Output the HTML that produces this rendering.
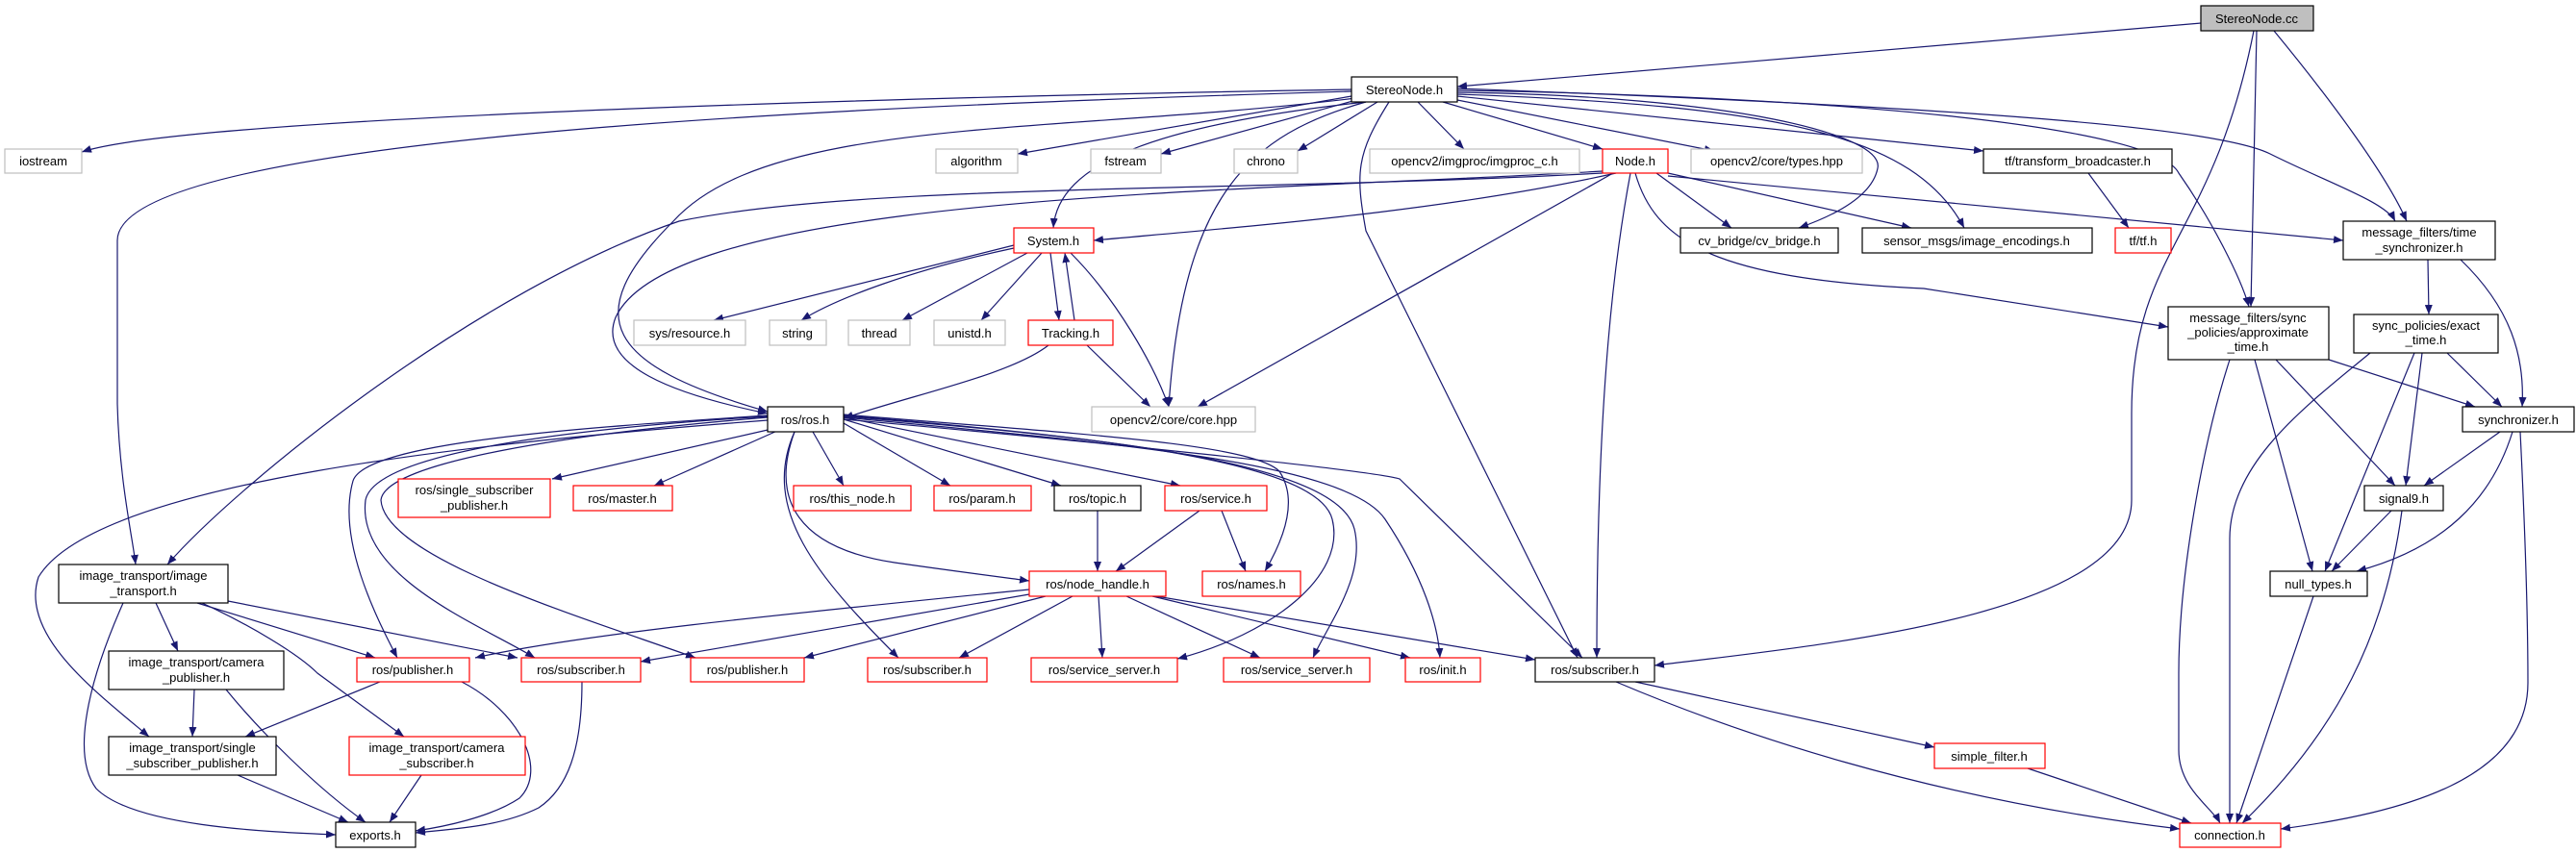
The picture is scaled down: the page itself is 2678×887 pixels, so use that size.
<!DOCTYPE html>
<html><head><meta charset="utf-8"><style>
html,body{margin:0;padding:0;background:#fff;}
svg{display:block;}
text{font-family:"Liberation Sans",sans-serif;font-size:13px;fill:#000;text-anchor:middle;}
.e{fill:none;stroke:#191970;stroke-width:1.2;marker-end:url(#a);}
.g{fill:#fff;stroke:#bfbfbf;stroke-width:1.2;}
.r{fill:#fff;stroke:#ff0000;stroke-width:1.2;}
.b{fill:#fff;stroke:#000;stroke-width:1.2;}
</style></head><body>
<svg width="2678" height="887" viewBox="0 0 2678 887" xmlns="http://www.w3.org/2000/svg">
<defs><marker id="a" markerWidth="10" markerHeight="8" refX="10" refY="4" orient="auto" markerUnits="userSpaceOnUse"><path d="M0,0 L10,4 L0,8 z" fill="#191970"/></marker></defs>
<g>
<path class="e" d="M2288 24 L1515 90"/>
<path class="e" d="M2343 32 C2300 250,2216 260,2216 430 L2216 520 C2216 640,1900 670,1720 692"/>
<path class="e" d="M2346 32 L2340 319"/>
<path class="e" d="M2364 32 C2420 100,2480 180,2502 230"/>
<path class="e" d="M1405 93 C1000 100,200 120,85 158"/>
<path class="e" d="M1405 95 C900 110,122 140,122 250 L122 420 C124 500,138 560,141 587"/>
<path class="e" d="M1410 102 C1100 140,800 120,700 230 C600 330,630 380,798 428"/>
<path class="e" d="M1666 178 C1300 200,700 200,640 330 C620 380,700 410,798 430"/>
<path class="e" d="M1420 106 C1200 130,1100 170,1095 237"/>
<path class="e" d="M1405 100 L1058 160"/>
<path class="e" d="M1410 104 L1207 160"/>
<path class="e" d="M1432 106 L1349 157"/>
<path class="e" d="M1420 106 C1300 140,1230 200,1215 423"/>
<path class="e" d="M1444 106 C1410 160,1409 180,1420 240 L1640 684"/>
<path class="e" d="M1474 106 L1522 155"/>
<path class="e" d="M1500 106 L1666 155"/>
<path class="e" d="M1515 104 L1782 157"/>
<path class="e" d="M1515 96 C1800 100,1960 140,1952 175 C1945 210,1890 230,1870 237"/>
<path class="e" d="M1515 98 C1850 110,1990 140,2042 237"/>
<path class="e" d="M1515 100 L2062 157"/>
<path class="e" d="M1515 94 C1900 100,2240 130,2265 180 C2300 230,2330 290,2338 319"/>
<path class="e" d="M1515 92 C2000 110,2300 130,2360 160 C2420 190,2480 210,2490 230"/>
<path class="e" d="M1666 180 C1300 200,900 190,706 230 C500 300,250 500,174 587"/>
<path class="e" d="M1680 180 C1500 220,1300 235,1137 250"/>
<path class="e" d="M1677 180 L1245 423"/>
<path class="e" d="M1695 180 C1680 260,1660 400,1660 684"/>
<path class="e" d="M1722 180 L1800 237"/>
<path class="e" d="M1734 180 L1987 237"/>
<path class="e" d="M1734 183 L2436 250"/>
<path class="e" d="M1700 180 C1720 250,1780 290,2000 300 L2254 340"/>
<path class="e" d="M2171 180 L2213 237"/>
<path class="e" d="M1054 255 L742 333"/>
<path class="e" d="M1054 258 C950 280,870 310,833 333"/>
<path class="e" d="M1068 263 L938 333"/>
<path class="e" d="M1083 263 L1020 333"/>
<path class="e" d="M1092 263 L1101 333"/>
<path class="e" d="M1117 333 L1107 263"/>
<path class="e" d="M1113 263 C1160 310,1200 380,1215 423"/>
<path class="e" d="M1130 359 L1196 423"/>
<path class="e" d="M1090 359 C1050 390,950 410,877 435"/>
<path class="e" d="M2524 270 L2525 327"/>
<path class="e" d="M2558 270 C2610 320,2625 370,2622 423"/>
<path class="e" d="M2421 374 L2573 423"/>
<path class="e" d="M2366 374 L2490 505"/>
<path class="e" d="M2344 374 L2404 594"/>
<path class="e" d="M2318 374 C2290 460,2265 600,2265 700 L2265 780 C2265 820,2300 840,2308 856"/>
<path class="e" d="M2544 367 L2601 423"/>
<path class="e" d="M2518 367 L2501 505"/>
<path class="e" d="M2510 367 L2417 594"/>
<path class="e" d="M2464 367 C2400 420,2318 480,2318 560 L2318 856"/>
<path class="e" d="M2599 449 L2520 505"/>
<path class="e" d="M2612 449 C2590 520,2540 570,2450 594"/>
<path class="e" d="M2620 449 C2625 550,2628 650,2628 710 C2628 810,2500 845,2371 862"/>
<path class="e" d="M2486 531 L2424 594"/>
<path class="e" d="M2497 531 C2480 660,2430 760,2331 856"/>
<path class="e" d="M2405 620 L2325 856"/>
<path class="e" d="M807 445 L574 498"/>
<path class="e" d="M808 448 L680 505"/>
<path class="e" d="M845 449 L877 505"/>
<path class="e" d="M877 440 L988 505"/>
<path class="e" d="M877 436 L1103 505"/>
<path class="e" d="M877 434 L1227 505"/>
<path class="e" d="M826 449 C800 520,830 570,930 585 C1000 595,1040 600,1070 604"/>
<path class="e" d="M877 431 C1100 450,1300 460,1330 490 C1350 520,1335 560,1315 594"/>
<path class="e" d="M877 432 C1150 455,1370 480,1385 540 C1400 600,1320 660,1224 685"/>
<path class="e" d="M877 433 C1150 455,1390 480,1408 550 C1420 600,1380 650,1365 684"/>
<path class="e" d="M877 434 C1150 460,1400 480,1440 540 C1480 600,1495 650,1497 684"/>
<path class="e" d="M877 436 C1150 460,1430 490,1455 498 L1645 684"/>
<path class="e" d="M798 432 C600 445,380 460,367 500 C350 560,390 640,413 684"/>
<path class="e" d="M798 433 C600 445,390 470,380 520 C370 600,500 650,556 684"/>
<path class="e" d="M798 434 C600 450,400 480,396 520 C400 580,600 640,723 684"/>
<path class="e" d="M826 449 C790 530,850 600,934 684"/>
<path class="e" d="M798 437 C500 460,100 500,40 600 C20 660,100 720,155 766"/>
<path class="e" d="M1141 531 L1141 594"/>
<path class="e" d="M1247 531 L1160 594"/>
<path class="e" d="M1270 531 L1295 594"/>
<path class="e" d="M1070 613 C800 640,600 660,494 684"/>
<path class="e" d="M1070 618 L666 688"/>
<path class="e" d="M1087 620 L836 684"/>
<path class="e" d="M1115 620 L997 684"/>
<path class="e" d="M1142 620 L1146 684"/>
<path class="e" d="M1171 620 L1310 684"/>
<path class="e" d="M1198 620 L1466 684"/>
<path class="e" d="M1202 620 L1596 686"/>
<path class="e" d="M162 627 L185 677"/>
<path class="e" d="M205 627 L390 684"/>
<path class="e" d="M237 625 L538 684"/>
<path class="e" d="M210 627 C260 650,310 680,330 700 L420 766"/>
<path class="e" d="M128 627 C100 690,70 780,100 820 C140 860,280 865,349 868"/>
<path class="e" d="M202 717 L200 766"/>
<path class="e" d="M235 717 C270 760,330 820,380 855"/>
<path class="e" d="M395 709 L255 766"/>
<path class="e" d="M480 709 C540 740,570 800,540 830 C510 850,460 860,432 864"/>
<path class="e" d="M605 709 C605 780,590 820,560 840 C520 860,470 862,432 866"/>
<path class="e" d="M247 806 L362 855"/>
<path class="e" d="M438 806 L405 855"/>
<path class="e" d="M1700 709 L2011 777"/>
<path class="e" d="M1680 709 C1800 760,2000 830,2266 862"/>
<path class="e" d="M2108 799 L2278 856"/>
</g>
<g>
<rect x="2288" y="6" width="117" height="26" fill="#bfbfbf" stroke="#000" stroke-width="1.2"/><text x="2346" y="24">StereoNode.cc</text>
<rect class="b" x="1405" y="80" width="110" height="26"/><text x="1460" y="98">StereoNode.h</text>
<rect class="g" x="5" y="155" width="80" height="25"/><text x="45" y="172">iostream</text>
<rect class="g" x="973" y="155" width="85" height="25"/><text x="1015" y="172">algorithm</text>
<rect class="g" x="1134" y="155" width="73" height="25"/><text x="1170" y="172">fstream</text>
<rect class="g" x="1283" y="155" width="66" height="25"/><text x="1316" y="172">chrono</text>
<rect class="g" x="1424" y="155" width="218" height="25"/><text x="1533" y="172">opencv2/imgproc/imgproc_c.h</text>
<rect class="r" x="1666" y="155" width="68" height="25"/><text x="1700" y="172">Node.h</text>
<rect class="g" x="1758" y="155" width="178" height="25"/><text x="1847" y="172">opencv2/core/types.hpp</text>
<rect class="b" x="2062" y="155" width="196" height="25"/><text x="2160" y="172">tf/transform_broadcaster.h</text>
<rect class="r" x="1054" y="237" width="83" height="26"/><text x="1095" y="255">System.h</text>
<rect class="b" x="1747" y="237" width="164" height="26"/><text x="1829" y="255">cv_bridge/cv_bridge.h</text>
<rect class="b" x="1936" y="237" width="239" height="26"/><text x="2055" y="255">sensor_msgs/image_encodings.h</text>
<rect class="r" x="2199" y="237" width="58" height="26"/><text x="2228" y="255">tf/tf.h</text>
<rect class="b" x="2436" y="230" width="158" height="40"/><text x="2515" y="246">message_filters/time</text><text x="2515" y="262">_synchronizer.h</text>
<rect class="g" x="659" y="333" width="116" height="26"/><text x="717" y="351">sys/resource.h</text>
<rect class="g" x="800" y="333" width="59" height="26"/><text x="829" y="351">string</text>
<rect class="g" x="882" y="333" width="64" height="26"/><text x="914" y="351">thread</text>
<rect class="g" x="971" y="333" width="74" height="26"/><text x="1008" y="351">unistd.h</text>
<rect class="r" x="1069" y="333" width="88" height="26"/><text x="1113" y="351">Tracking.h</text>
<rect class="b" x="2254" y="319" width="167" height="55"/><text x="2337" y="335">message_filters/sync</text><text x="2337" y="350">_policies/approximate</text><text x="2337" y="365">_time.h</text>
<rect class="b" x="2447" y="327" width="150" height="40"/><text x="2522" y="343">sync_policies/exact</text><text x="2522" y="358">_time.h</text>
<rect class="b" x="798" y="423" width="79" height="26"/><text x="837" y="441">ros/ros.h</text>
<rect class="g" x="1135" y="423" width="170" height="26"/><text x="1220" y="441">opencv2/core/core.hpp</text>
<rect class="b" x="2560" y="423" width="116" height="26"/><text x="2618" y="441">synchronizer.h</text>
<rect class="r" x="414" y="498" width="158" height="40"/><text x="493" y="514">ros/single_subscriber</text><text x="493" y="530">_publisher.h</text>
<rect class="r" x="596" y="505" width="103" height="26"/><text x="647" y="523">ros/master.h</text>
<rect class="r" x="825" y="505" width="122" height="26"/><text x="886" y="523">ros/this_node.h</text>
<rect class="r" x="971" y="505" width="101" height="26"/><text x="1021" y="523">ros/param.h</text>
<rect class="b" x="1096" y="505" width="90" height="26"/><text x="1141" y="523">ros/topic.h</text>
<rect class="r" x="1211" y="505" width="106" height="26"/><text x="1264" y="523">ros/service.h</text>
<rect class="b" x="2458" y="505" width="82" height="26"/><text x="2499" y="523">signal9.h</text>
<rect class="b" x="61" y="587" width="176" height="40"/><text x="149" y="603">image_transport/image</text><text x="149" y="619">_transport.h</text>
<rect class="r" x="1070" y="594" width="142" height="26"/><text x="1141" y="612">ros/node_handle.h</text>
<rect class="r" x="1250" y="594" width="102" height="26"/><text x="1301" y="612">ros/names.h</text>
<rect class="b" x="2360" y="594" width="101" height="26"/><text x="2410" y="612">null_types.h</text>
<rect class="b" x="113" y="677" width="182" height="40"/><text x="204" y="693">image_transport/camera</text><text x="204" y="709">_publisher.h</text>
<rect class="r" x="371" y="684" width="117" height="25"/><text x="429" y="701">ros/publisher.h</text>
<rect class="r" x="542" y="684" width="124" height="25"/><text x="604" y="701">ros/subscriber.h</text>
<rect class="r" x="718" y="684" width="118" height="25"/><text x="777" y="701">ros/publisher.h</text>
<rect class="r" x="902" y="684" width="124" height="25"/><text x="964" y="701">ros/subscriber.h</text>
<rect class="r" x="1072" y="684" width="152" height="25"/><text x="1148" y="701">ros/service_server.h</text>
<rect class="r" x="1272" y="684" width="152" height="25"/><text x="1348" y="701">ros/service_server.h</text>
<rect class="r" x="1461" y="684" width="78" height="25"/><text x="1500" y="701">ros/init.h</text>
<rect class="b" x="1596" y="684" width="124" height="25"/><text x="1658" y="701">ros/subscriber.h</text>
<rect class="b" x="113" y="766" width="174" height="40"/><text x="200" y="782">image_transport/single</text><text x="200" y="798">_subscriber_publisher.h</text>
<rect class="r" x="363" y="766" width="183" height="40"/><text x="454" y="782">image_transport/camera</text><text x="454" y="798">_subscriber.h</text>
<rect class="r" x="2011" y="773" width="115" height="26"/><text x="2068" y="791">simple_filter.h</text>
<rect class="b" x="349" y="855" width="83" height="26"/><text x="390" y="873">exports.h</text>
<rect class="r" x="2266" y="856" width="105" height="25"/><text x="2318" y="873">connection.h</text>
</g>
</svg>
</body></html>
